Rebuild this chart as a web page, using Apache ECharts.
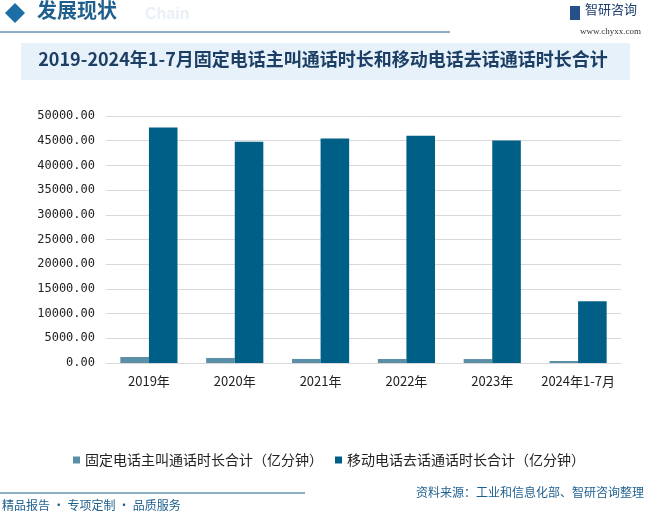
<!DOCTYPE html>
<html><head><meta charset="utf-8">
<script src="https://cdn.jsdelivr.net/npm/echarts@6/dist/echarts.min.js"></script>
<style>html,body{margin:0;padding:0;background:#fff}#c{width:646px;height:514px}</style>
</head><body><div id="c"></div>
<script>
const categories = ['2019年','2020年','2021年','2022年','2023年','2024年1-7月'];
const fixedLine = [1220, 1020, 820, 810, 800, 400];
const mobile = [47650, 44800, 45450, 46000, 45050, 12500];
const seriesNames = ['固定电话主叫通话时长合计（亿分钟）','移动电话去话通话时长合计（亿分钟）'];
const yTicks = {min: 0, max: 50000, interval: 5000};

const chart = echarts.init(document.getElementById('c'), null, {renderer:'canvas'});
const cjk = '"Noto Sans CJK SC", sans-serif';
chart.setOption({
  backgroundColor: '#fff',
  animation: false,
  graphic: [
    // header
    {type:'polygon', shape:{points:[[15,3],[25,13],[15,23],[5,13]]}, style:{fill:'#1c6ea4'}},
    {type:'text', left:145, top:7, style:{text:'Chain', font:'bold 16px "Liberation Sans", sans-serif', fill:'#e8eff6'}},
    {type:'text', left:37, top:0, style:{text:'发展现状', font:'bold 20px '+cjk, fill:'#1f5f8e'}},
    {type:'line', shape:{x1:0,y1:32,x2:450,y2:32}, style:{stroke:'#1b5e8c', lineWidth:1}},
    {type:'rect', shape:{x:570,y:6,width:10,height:14}, style:{fill:'#27508a'}},
    {type:'text', left:585, top:3, style:{text:'智研咨询', font:'13px '+cjk, fill:'#1f3e6e'}},
    {type:'text', left:580, top:27, style:{text:'www.chyxx.com', font:'9px "Liberation Serif", serif', fill:'#333'}},
    // title box
    {type:'rect', shape:{x:21,y:43,width:609,height:37}, style:{fill:'#e6f1fa'}},
    {type:'text', left:'center', top:50, style:{text:'2019-2024年1-7月固定电话主叫通话时长和移动电话去话通话时长合计', font:'bold 18px '+cjk, fill:'#1d3f66'}},
    // footer
    {type:'line', shape:{x1:0,y1:493,x2:305,y2:493}, style:{stroke:'#1b5e8c', lineWidth:1}},
    {type:'text', right:2, top:486, style:{text:'资料来源：工业和信息化部、智研咨询整理', font:'12px '+cjk, fill:'#1f5f8e'}},
    {type:'text', left:2, top:499, style:{text:'精品报告 · 专项定制 · 品质服务', font:'12px '+cjk, fill:'#1f5f8e'}}
  ],
  legend: {
    data: seriesNames,
    left: 68, top: 448,
    itemWidth: 7, itemHeight: 7, itemGap: 12,
    icon: 'rect',
    textStyle: {fontSize: 14, color: '#222', fontFamily: cjk}
  },
  grid: {left: 106, right: 25, top: 116, bottom: 151},
  xAxis: {
    type: 'category', data: categories,
    axisLine: {lineStyle: {color: '#d9d9d9'}},
    axisTick: {show: false},
    axisLabel: {color: '#222', fontSize: 13, margin: 12, fontFamily: cjk, interval: 0}
  },
  yAxis: {
    type: 'value', min: yTicks.min, max: yTicks.max, interval: yTicks.interval,
    axisLine: {show: false}, axisTick: {show: false},
    splitLine: {lineStyle: {color: '#d9d9d9'}},
    axisLabel: {color: '#222', fontSize: 12, margin: 11, fontFamily: '"DejaVu Sans Mono", monospace',
      formatter: v => v.toFixed(2)}
  },
  series: [
    {name: seriesNames[0], type: 'bar', data: fixedLine, barWidth: '33.3%', barGap: '0%', itemStyle: {color: '#5b8fa7'}},
    {name: seriesNames[1], type: 'bar', data: mobile, barWidth: '33.3%', itemStyle: {color: '#005f86'}}
  ]
});
</script>
</body></html>
